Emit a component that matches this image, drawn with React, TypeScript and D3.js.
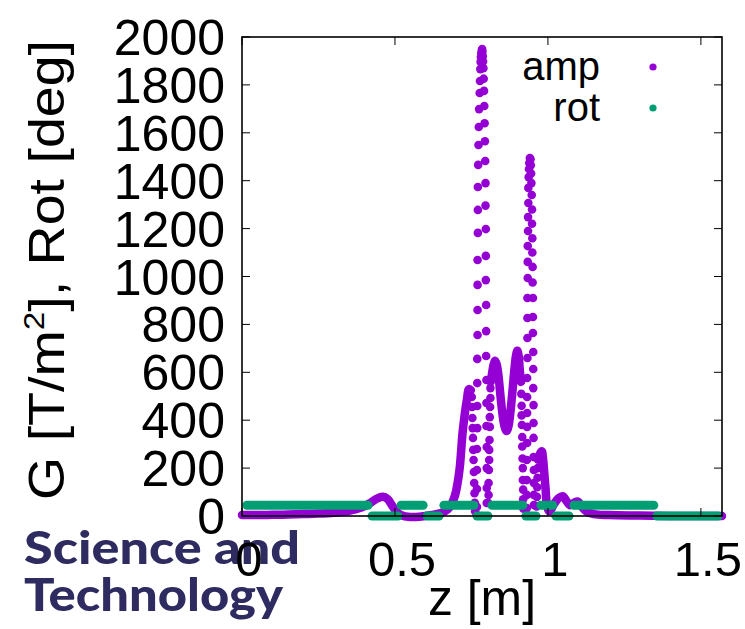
import React from "react";
import * as d3 from "d3";

// ---------- data ----------
const xTicks = [0, 0.5, 1, 1.5];
const yTicks = [0, 200, 400, 600, 800, 1000, 1200, 1400, 1600, 1800, 2000];
const xTickLabels = ["0", "0.5", "1", "1.5"];

// amp: smooth (densely sampled) parts, [z, value]
const ampSmoothA: [number, number][] = [
  [0.0, 4], [0.05, 4], [0.1, 5], [0.15, 6], [0.2, 8], [0.25, 10], [0.3, 14], [0.35, 22],
  [0.39, 35], [0.42, 55], [0.44, 72], [0.46, 80], [0.475, 72], [0.49, 45], [0.505, 18],
  [0.52, 4], [0.55, -4], [0.58, -3], [0.61, 2], [0.635, 8], [0.657, 15], [0.68, 38],
  [0.696, 85], [0.705, 140], [0.712, 205], [0.722, 360], [0.735, 485], [0.742, 530], [0.748, 525],
];
const ampSmoothB: [number, number][] = [
  [0.813, 560], [0.818, 600], [0.822, 630], [0.827, 648], [0.832, 635], [0.838, 590],
  [0.845, 500], [0.852, 420], [0.858, 375], [0.865, 355], [0.871, 375], [0.877, 430],
  [0.884, 520], [0.891, 620], [0.896, 672], [0.900, 690], [0.904, 670], [0.908, 610], [0.912, 560],
];
const ampSmoothC: [number, number][] = [
  [0.971, 245], [0.976, 265], [0.980, 270], [0.984, 240], [0.988, 180], [0.992, 120],
  [0.997, 45], [1.005, 20], [1.02, 50], [1.035, 75], [1.049, 82], [1.062, 60], [1.072, 45],
  [1.085, 55], [1.098, 60], [1.11, 40], [1.125, 20], [1.15, 8], [1.2, 4], [1.3, 2],
  [1.4, 0], [1.5, 0], [1.569, 0],
];
// amp: steep parts where individual samples are visible, [z, value]
const ampPeak1Fall: [number, number][] = [
  [0.751, 497], [0.752, 455], [0.753, 409], [0.754, 367], [0.755, 326], [0.756, 276],
  [0.757, 234], [0.758, 184], [0.759, 138], [0.760, 95], [0.761, 55], [0.762, 20],
];
const ampSpike1Rise: [number, number][] = [
  [0.768, 38], [0.768, 113], [0.768, 192], [0.768, 280], [0.769, 367], [0.769, 459],
  [0.769, 555], [0.769, 656], [0.770, 756], [0.770, 860], [0.770, 965], [0.770, 1069],
  [0.771, 1182], [0.771, 1278], [0.771, 1374], [0.772, 1466], [0.773, 1549], [0.774, 1624],
  [0.775, 1699], [0.777, 1766], [0.778, 1816], [0.779, 1866], [0.780, 1896], [0.781, 1916],
  [0.782, 1933], [0.784, 1946],
];
const ampSpike1Fall: [number, number][] = [
  [0.785, 1950], [0.786, 1938], [0.787, 1920], [0.788, 1898], [0.789, 1870], [0.790, 1826],
  [0.791, 1775], [0.792, 1712], [0.793, 1640], [0.794, 1565], [0.795, 1482], [0.796, 1390],
  [0.796, 1296], [0.797, 1198], [0.797, 1086], [0.797, 985], [0.798, 881], [0.798, 772],
  [0.798, 668], [0.799, 568], [0.799, 472], [0.799, 376], [0.800, 288], [0.800, 200],
  [0.800, 117], [0.800, 54],
];
const ampPeak2Rise: [number, number][] = [
  [0.805, 54], [0.806, 88], [0.806, 138], [0.807, 192], [0.808, 234], [0.808, 276],
  [0.809, 317], [0.810, 372], [0.810, 413], [0.811, 455], [0.812, 493], [0.812, 534],
];
const ampPeak3Fall: [number, number][] = [
  [0.913, 510], [0.914, 460], [0.914, 420], [0.915, 380], [0.916, 330], [0.916, 290],
  [0.917, 240], [0.918, 200], [0.918, 150], [0.919, 110], [0.919, 70], [0.920, 30],
];
const ampSpike2Rise: [number, number][] = [
  [0.931, 33], [0.931, 88], [0.931, 150], [0.931, 234], [0.932, 305], [0.932, 372],
  [0.932, 430], [0.932, 497], [0.932, 576], [0.933, 660], [0.933, 743], [0.933, 827],
  [0.933, 910], [0.934, 994], [0.934, 1061], [0.934, 1127], [0.935, 1190], [0.935, 1248],
  [0.936, 1307], [0.936, 1370], [0.937, 1415], [0.938, 1449], [0.939, 1474], [0.941, 1495],
];
const ampSpike2Fall: [number, number][] = [
  [0.943, 1490], [0.944, 1465], [0.945, 1430], [0.946, 1390], [0.947, 1340], [0.948, 1280],
  [0.948, 1220], [0.949, 1160], [0.949, 1100], [0.950, 1040], [0.950, 975], [0.951, 910],
  [0.951, 831], [0.951, 764], [0.952, 685], [0.952, 614], [0.952, 534], [0.953, 463],
  [0.953, 388], [0.953, 326], [0.953, 246], [0.954, 192], [0.954, 138], [0.954, 88], [0.954, 46],
];
const ampPeak4Rise: [number, number][] = [
  [0.963, 40], [0.964, 80], [0.965, 120], [0.966, 160], [0.967, 200], [0.968, 235],
];

// rot: constant stretches [zStart, zEnd]
const rotHighValue = 45;
const rotLowValue = 0;
const rotHighRuns: [number, number][] = [
  [0.016, 0.412], [0.520, 0.592], [0.660, 0.758], [0.817, 0.918], [0.977, 1.016], [1.085, 1.346],
];
const rotLowRuns: [number, number][] = [
  [0.425, 0.51], [0.605, 0.644], [0.768, 0.804], [0.928, 0.961], [1.026, 1.069], [1.356, 1.556],
];

const legendItems = ["amp", "rot"];

// ---------- style ----------
const AMP = "#9400d3";
const ROT = "#009e73";
const FONT = "'Liberation Sans', Arial, Helvetica, sans-serif";

export default function App() {
  const W = 745, H = 629;
  const left = 242, right = 722, top = 37, bottom = 516;
  const x = d3.scaleLinear().domain([0, 1.569]).range([left, right]);
  const y = d3.scaleLinear().domain([0, 2000]).range([bottom, top]);
  const line = d3
    .line<[number, number]>()
    .x((d) => x(d[0]))
    .y((d) => y(d[1]))
    .curve(d3.curveCatmullRom);

  const dotSets = [
    ampPeak1Fall, ampSpike1Rise, ampSpike1Fall, ampPeak2Rise,
    ampPeak3Fall, ampSpike2Rise, ampSpike2Fall, ampPeak4Rise,
  ];
  const smoothSets = [ampSmoothA, ampSmoothB, ampSmoothC];
  const tickLen = 8;

  return (
    <svg
      width={W}
      height={H}
      style={{ position: "absolute", left: 0, top: 0, background: "#fff" }}
      fontFamily={FONT}
    >
      <rect x={0} y={0} width={W} height={H} fill="#fff" />
      {/* watermark */}
      <g fill="#2d2b5f" fontFamily="Lato, 'Open Sans', sans-serif" fontWeight={900}>
        <text x={24} y={564} fontSize={46} textLength={276} lengthAdjust="spacingAndGlyphs">
          Science and
        </text>
        <text x={24} y={611} fontSize={46} textLength={259} lengthAdjust="spacingAndGlyphs">
          Technology
        </text>
      </g>

      {/* amp */}
      <g>
        {smoothSets.map((s, i) => (
          <path
            key={"s" + i}
            d={line(s) || ""}
            fill="none"
            stroke={AMP}
            strokeWidth={8.5}
            strokeLinecap="round"
            strokeLinejoin="round"
          />
        ))}
        {dotSets.map((s, i) =>
          s.map((d, j) => (
            <circle key={"d" + i + "_" + j} cx={x(d[0])} cy={y(d[1])} r={4.3} fill={AMP} />
          ))
        )}
      </g>

      {/* rot */}
      <g stroke={ROT} strokeWidth={9} strokeLinecap="round">
        {rotHighRuns.map((r, i) => (
          <line key={"h" + i} x1={x(r[0])} x2={x(r[1])} y1={y(rotHighValue)} y2={y(rotHighValue)} />
        ))}
        {rotLowRuns.map((r, i) => (
          <line key={"l" + i} x1={x(r[0])} x2={x(r[1])} y1={y(rotLowValue)} y2={y(rotLowValue)} />
        ))}
      </g>

      {/* ticks */}
      <g stroke="#000" strokeWidth={1}>
        {yTicks.map((t) => (
          <g key={"yt" + t}>
            <line x1={left} x2={left + tickLen} y1={y(t)} y2={y(t)} />
            <line x1={right} x2={right - tickLen} y1={y(t)} y2={y(t)} />
          </g>
        ))}
        {xTicks.map((t) => (
          <g key={"xt" + t}>
            <line x1={x(t)} x2={x(t)} y1={bottom} y2={bottom - tickLen} />
            <line x1={x(t)} x2={x(t)} y1={top} y2={top + tickLen} />
          </g>
        ))}
      </g>
      <rect
        x={left}
        y={top}
        width={right - left}
        height={bottom - top}
        fill="none"
        stroke="#000"
        strokeWidth={1.6}
      />

      {/* tick labels */}
      <g fontSize={50} fill="#000">
        {yTicks.map((t) => (
          <text key={"yl" + t} x={225} y={y(t) + 18} textAnchor="end">
            {t}
          </text>
        ))}
      </g>
      <g fontSize={49} fill="#000">
        {xTicks.map((t, i) => (
          <text key={"xl" + t} x={x(t) + 7} y={576} textAnchor="middle">
            {xTickLabels[i]}
          </text>
        ))}
      </g>

      {/* axis titles */}
      <text x={482} y={615} fontSize={50} textAnchor="middle" textLength={108} lengthAdjust="spacingAndGlyphs">
        z [m]
      </text>
      <text
        transform={`translate(64, 270) rotate(-90)`}
        fontSize={50}
        textAnchor="middle"
        textLength={460}
        lengthAdjust="spacingAndGlyphs"
      >
        G [T/m<tspan fontSize={30} dy={-20}>2</tspan>
        <tspan dy={20}>], Rot [deg]</tspan>
      </text>

      {/* legend */}
      <g fontSize={40}>
        {legendItems.map((name, i) => (
          <g key={name}>
            <text x={600} y={80 + i * 41} textAnchor="end">
              {name}
            </text>
            <circle cx={653} cy={67 + i * 41} r={3.6} fill={i === 0 ? AMP : ROT} />
          </g>
        ))}
      </g>
    </svg>
  );
}
